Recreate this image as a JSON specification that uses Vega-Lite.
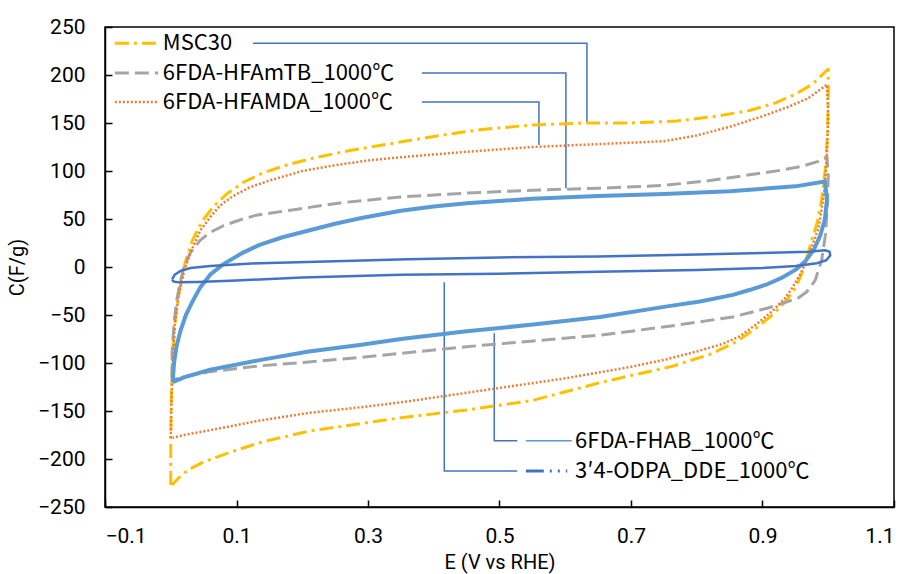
{
  "$schema": "https://vega.github.io/schema/vega-lite/v6.json",
  "width": 789,
  "height": 480,
  "autosize": {"type": "none"},
  "padding": {"left": 105, "top": 27, "right": 14, "bottom": 67},
  "background": "white",
  "config": {
    "view": {"stroke": "black", "strokeWidth": 1.5},
    "font": "Roboto",
    "axis": {"grid": false, "domainColor": "black", "domainWidth": 1.5, "tickColor": "black", "tickWidth": 1.5, "tickSize": -7, "labelPadding": 27, "labelColor": "black", "labelFontSize": 21, "labelFont": "Roboto", "titleFont": "Roboto", "titleFontSize": 20, "titleFontWeight": "normal", "titleColor": "black"}
  },
  "datasets": {
    "cv": [
      {"s":"MSC30","g":"c","i":0,"x":0.0,"y":-227},{"s":"MSC30","g":"c","i":1,"x":0.0,"y":-180},{"s":"MSC30","g":"c","i":2,"x":0.001,"y":-130},{"s":"MSC30","g":"c","i":3,"x":0.003,"y":-90},{"s":"MSC30","g":"c","i":4,"x":0.007,"y":-55},{"s":"MSC30","g":"c","i":5,"x":0.013,"y":-25},{"s":"MSC30","g":"c","i":6,"x":0.022,"y":5},{"s":"MSC30","g":"c","i":7,"x":0.033,"y":28},{"s":"MSC30","g":"c","i":8,"x":0.048,"y":48},{"s":"MSC30","g":"c","i":9,"x":0.065,"y":63},{"s":"MSC30","g":"c","i":10,"x":0.085,"y":76},{"s":"MSC30","g":"c","i":11,"x":0.11,"y":88},{"s":"MSC30","g":"c","i":12,"x":0.14,"y":98},{"s":"MSC30","g":"c","i":13,"x":0.18,"y":107},{"s":"MSC30","g":"c","i":14,"x":0.22,"y":114},{"s":"MSC30","g":"c","i":15,"x":0.27,"y":121},{"s":"MSC30","g":"c","i":16,"x":0.33,"y":128},{"s":"MSC30","g":"c","i":17,"x":0.4,"y":136},{"s":"MSC30","g":"c","i":18,"x":0.47,"y":143},{"s":"MSC30","g":"c","i":19,"x":0.55,"y":148},{"s":"MSC30","g":"c","i":20,"x":0.63,"y":150},{"s":"MSC30","g":"c","i":21,"x":0.7,"y":150},{"s":"MSC30","g":"c","i":22,"x":0.77,"y":152},{"s":"MSC30","g":"c","i":23,"x":0.83,"y":157},{"s":"MSC30","g":"c","i":24,"x":0.88,"y":163},{"s":"MSC30","g":"c","i":25,"x":0.92,"y":171},{"s":"MSC30","g":"c","i":26,"x":0.95,"y":180},{"s":"MSC30","g":"c","i":27,"x":0.975,"y":190},{"s":"MSC30","g":"c","i":28,"x":0.995,"y":203},{"s":"MSC30","g":"c","i":29,"x":1.0,"y":206},{"s":"MSC30","g":"c","i":30,"x":1.0,"y":180},{"s":"MSC30","g":"c","i":31,"x":0.999,"y":140},{"s":"MSC30","g":"c","i":32,"x":0.996,"y":105},{"s":"MSC30","g":"c","i":33,"x":0.99,"y":70},{"s":"MSC30","g":"c","i":34,"x":0.983,"y":46},{"s":"MSC30","g":"c","i":35,"x":0.972,"y":21},{"s":"MSC30","g":"c","i":36,"x":0.962,"y":-3},{"s":"MSC30","g":"c","i":37,"x":0.95,"y":-22},{"s":"MSC30","g":"c","i":38,"x":0.935,"y":-36},{"s":"MSC30","g":"c","i":39,"x":0.915,"y":-50},{"s":"MSC30","g":"c","i":40,"x":0.89,"y":-64},{"s":"MSC30","g":"c","i":41,"x":0.86,"y":-78},{"s":"MSC30","g":"c","i":42,"x":0.82,"y":-91},{"s":"MSC30","g":"c","i":43,"x":0.76,"y":-104},{"s":"MSC30","g":"c","i":44,"x":0.7,"y":-113},{"s":"MSC30","g":"c","i":45,"x":0.65,"y":-121},{"s":"MSC30","g":"c","i":46,"x":0.6,"y":-130},{"s":"MSC30","g":"c","i":47,"x":0.55,"y":-139},{"s":"MSC30","g":"c","i":48,"x":0.5,"y":-144},{"s":"MSC30","g":"c","i":49,"x":0.45,"y":-149},{"s":"MSC30","g":"c","i":50,"x":0.4,"y":-153},{"s":"MSC30","g":"c","i":51,"x":0.35,"y":-157},{"s":"MSC30","g":"c","i":52,"x":0.29,"y":-163},{"s":"MSC30","g":"c","i":53,"x":0.21,"y":-171},{"s":"MSC30","g":"c","i":54,"x":0.14,"y":-182},{"s":"MSC30","g":"c","i":55,"x":0.09,"y":-193},{"s":"MSC30","g":"c","i":56,"x":0.05,"y":-203},{"s":"MSC30","g":"c","i":57,"x":0.025,"y":-212},{"s":"MSC30","g":"c","i":58,"x":0.01,"y":-221},{"s":"MSC30","g":"c","i":59,"x":0.002,"y":-227},
      {"s":"MSC30","g":"k","i":0,"x":-0.085,"y":233},{"s":"MSC30","g":"k","i":1,"x":-0.019,"y":233},

      {"s":"HFAmTB","g":"c","i":0,"x":0.002,"y":-118},{"s":"HFAmTB","g":"c","i":1,"x":0.002,"y":-90},{"s":"HFAmTB","g":"c","i":2,"x":0.005,"y":-58},{"s":"HFAmTB","g":"c","i":3,"x":0.009,"y":-35},{"s":"HFAmTB","g":"c","i":4,"x":0.014,"y":-17},{"s":"HFAmTB","g":"c","i":5,"x":0.02,"y":0},{"s":"HFAmTB","g":"c","i":6,"x":0.03,"y":15},{"s":"HFAmTB","g":"c","i":7,"x":0.045,"y":28},{"s":"HFAmTB","g":"c","i":8,"x":0.06,"y":36},{"s":"HFAmTB","g":"c","i":9,"x":0.08,"y":43},{"s":"HFAmTB","g":"c","i":10,"x":0.105,"y":49},{"s":"HFAmTB","g":"c","i":11,"x":0.13,"y":54},{"s":"HFAmTB","g":"c","i":12,"x":0.19,"y":60},{"s":"HFAmTB","g":"c","i":13,"x":0.26,"y":67},{"s":"HFAmTB","g":"c","i":14,"x":0.35,"y":73},{"s":"HFAmTB","g":"c","i":15,"x":0.45,"y":77},{"s":"HFAmTB","g":"c","i":16,"x":0.55,"y":80},{"s":"HFAmTB","g":"c","i":17,"x":0.65,"y":82},{"s":"HFAmTB","g":"c","i":18,"x":0.75,"y":85},{"s":"HFAmTB","g":"c","i":19,"x":0.82,"y":90},{"s":"HFAmTB","g":"c","i":20,"x":0.88,"y":96},{"s":"HFAmTB","g":"c","i":21,"x":0.93,"y":101},{"s":"HFAmTB","g":"c","i":22,"x":0.96,"y":105},{"s":"HFAmTB","g":"c","i":23,"x":0.985,"y":110},{"s":"HFAmTB","g":"c","i":24,"x":0.998,"y":115},{"s":"HFAmTB","g":"c","i":25,"x":1.0,"y":95},{"s":"HFAmTB","g":"c","i":26,"x":0.999,"y":70},{"s":"HFAmTB","g":"c","i":27,"x":0.996,"y":35},{"s":"HFAmTB","g":"c","i":28,"x":0.99,"y":7},{"s":"HFAmTB","g":"c","i":29,"x":0.98,"y":-14},{"s":"HFAmTB","g":"c","i":30,"x":0.967,"y":-26},{"s":"HFAmTB","g":"c","i":31,"x":0.955,"y":-32},{"s":"HFAmTB","g":"c","i":32,"x":0.93,"y":-38},{"s":"HFAmTB","g":"c","i":33,"x":0.907,"y":-43},{"s":"HFAmTB","g":"c","i":34,"x":0.855,"y":-52},{"s":"HFAmTB","g":"c","i":35,"x":0.805,"y":-57},{"s":"HFAmTB","g":"c","i":36,"x":0.755,"y":-62},{"s":"HFAmTB","g":"c","i":37,"x":0.653,"y":-71},{"s":"HFAmTB","g":"c","i":38,"x":0.551,"y":-77},{"s":"HFAmTB","g":"c","i":39,"x":0.45,"y":-83},{"s":"HFAmTB","g":"c","i":40,"x":0.35,"y":-90},{"s":"HFAmTB","g":"c","i":41,"x":0.29,"y":-94},{"s":"HFAmTB","g":"c","i":42,"x":0.21,"y":-99},{"s":"HFAmTB","g":"c","i":43,"x":0.135,"y":-103},{"s":"HFAmTB","g":"c","i":44,"x":0.06,"y":-109},{"s":"HFAmTB","g":"c","i":45,"x":0.015,"y":-115},{"s":"HFAmTB","g":"c","i":46,"x":0.002,"y":-118},
      {"s":"HFAmTB","g":"k","i":0,"x":-0.085,"y":202},{"s":"HFAmTB","g":"k","i":1,"x":-0.019,"y":202},

      {"s":"HFAMDA","g":"c","i":0,"x":0.0,"y":-178},{"s":"HFAMDA","g":"c","i":1,"x":0.001,"y":-140},{"s":"HFAMDA","g":"c","i":2,"x":0.003,"y":-100},{"s":"HFAMDA","g":"c","i":3,"x":0.006,"y":-60},{"s":"HFAMDA","g":"c","i":4,"x":0.012,"y":-30},{"s":"HFAMDA","g":"c","i":5,"x":0.02,"y":-5},{"s":"HFAMDA","g":"c","i":6,"x":0.03,"y":15},{"s":"HFAMDA","g":"c","i":7,"x":0.045,"y":38},{"s":"HFAMDA","g":"c","i":8,"x":0.06,"y":52},{"s":"HFAMDA","g":"c","i":9,"x":0.075,"y":64},{"s":"HFAMDA","g":"c","i":10,"x":0.095,"y":74},{"s":"HFAMDA","g":"c","i":11,"x":0.12,"y":83},{"s":"HFAMDA","g":"c","i":12,"x":0.15,"y":90},{"s":"HFAMDA","g":"c","i":13,"x":0.2,"y":100},{"s":"HFAMDA","g":"c","i":14,"x":0.25,"y":106},{"s":"HFAMDA","g":"c","i":15,"x":0.3,"y":111},{"s":"HFAMDA","g":"c","i":16,"x":0.36,"y":115},{"s":"HFAMDA","g":"c","i":17,"x":0.45,"y":120},{"s":"HFAMDA","g":"c","i":18,"x":0.55,"y":125},{"s":"HFAMDA","g":"c","i":19,"x":0.65,"y":128},{"s":"HFAMDA","g":"c","i":20,"x":0.75,"y":131},{"s":"HFAMDA","g":"c","i":21,"x":0.8,"y":137},{"s":"HFAMDA","g":"c","i":22,"x":0.85,"y":146},{"s":"HFAMDA","g":"c","i":23,"x":0.9,"y":157},{"s":"HFAMDA","g":"c","i":24,"x":0.94,"y":167},{"s":"HFAMDA","g":"c","i":25,"x":0.97,"y":176},{"s":"HFAMDA","g":"c","i":26,"x":0.998,"y":190},{"s":"HFAMDA","g":"c","i":27,"x":1.0,"y":160},{"s":"HFAMDA","g":"c","i":28,"x":0.998,"y":120},{"s":"HFAMDA","g":"c","i":29,"x":0.995,"y":85},{"s":"HFAMDA","g":"c","i":30,"x":0.99,"y":60},{"s":"HFAMDA","g":"c","i":31,"x":0.985,"y":40},{"s":"HFAMDA","g":"c","i":32,"x":0.977,"y":25},{"s":"HFAMDA","g":"c","i":33,"x":0.968,"y":8},{"s":"HFAMDA","g":"c","i":34,"x":0.957,"y":-8},{"s":"HFAMDA","g":"c","i":35,"x":0.945,"y":-22},{"s":"HFAMDA","g":"c","i":36,"x":0.935,"y":-32},{"s":"HFAMDA","g":"c","i":37,"x":0.915,"y":-46},{"s":"HFAMDA","g":"c","i":38,"x":0.89,"y":-60},{"s":"HFAMDA","g":"c","i":39,"x":0.866,"y":-72},{"s":"HFAMDA","g":"c","i":40,"x":0.84,"y":-80},{"s":"HFAMDA","g":"c","i":41,"x":0.805,"y":-87},{"s":"HFAMDA","g":"c","i":42,"x":0.755,"y":-96},{"s":"HFAMDA","g":"c","i":43,"x":0.7,"y":-104},{"s":"HFAMDA","g":"c","i":44,"x":0.65,"y":-110},{"s":"HFAMDA","g":"c","i":45,"x":0.6,"y":-116},{"s":"HFAMDA","g":"c","i":46,"x":0.55,"y":-121},{"s":"HFAMDA","g":"c","i":47,"x":0.5,"y":-126},{"s":"HFAMDA","g":"c","i":48,"x":0.45,"y":-131},{"s":"HFAMDA","g":"c","i":49,"x":0.4,"y":-136},{"s":"HFAMDA","g":"c","i":50,"x":0.35,"y":-141},{"s":"HFAMDA","g":"c","i":51,"x":0.29,"y":-146},{"s":"HFAMDA","g":"c","i":52,"x":0.21,"y":-152},{"s":"HFAMDA","g":"c","i":53,"x":0.135,"y":-160},{"s":"HFAMDA","g":"c","i":54,"x":0.06,"y":-170},{"s":"HFAMDA","g":"c","i":55,"x":0.02,"y":-175},{"s":"HFAMDA","g":"c","i":56,"x":0.003,"y":-178},
      {"s":"HFAMDA","g":"k","i":0,"x":-0.085,"y":172},{"s":"HFAMDA","g":"k","i":1,"x":-0.019,"y":172},

      {"s":"FHAB","g":"c","i":0,"x":0.003,"y":-120},{"s":"FHAB","g":"c","i":1,"x":0.005,"y":-100},{"s":"FHAB","g":"c","i":2,"x":0.009,"y":-82},{"s":"FHAB","g":"c","i":3,"x":0.015,"y":-66},{"s":"FHAB","g":"c","i":4,"x":0.023,"y":-50},{"s":"FHAB","g":"c","i":5,"x":0.033,"y":-36},{"s":"FHAB","g":"c","i":6,"x":0.045,"y":-21},{"s":"FHAB","g":"c","i":7,"x":0.06,"y":-8},{"s":"FHAB","g":"c","i":8,"x":0.08,"y":3},{"s":"FHAB","g":"c","i":9,"x":0.11,"y":15},{"s":"FHAB","g":"c","i":10,"x":0.135,"y":23},{"s":"FHAB","g":"c","i":11,"x":0.17,"y":31},{"s":"FHAB","g":"c","i":12,"x":0.21,"y":38},{"s":"FHAB","g":"c","i":13,"x":0.25,"y":45},{"s":"FHAB","g":"c","i":14,"x":0.29,"y":51},{"s":"FHAB","g":"c","i":15,"x":0.35,"y":58.5},{"s":"FHAB","g":"c","i":16,"x":0.4,"y":63},{"s":"FHAB","g":"c","i":17,"x":0.45,"y":66.5},{"s":"FHAB","g":"c","i":18,"x":0.55,"y":71},{"s":"FHAB","g":"c","i":19,"x":0.65,"y":74},{"s":"FHAB","g":"c","i":20,"x":0.75,"y":76},{"s":"FHAB","g":"c","i":21,"x":0.85,"y":79},{"s":"FHAB","g":"c","i":22,"x":0.95,"y":84},{"s":"FHAB","g":"c","i":23,"x":0.995,"y":89},{"s":"FHAB","g":"c","i":24,"x":0.998,"y":70},{"s":"FHAB","g":"c","i":25,"x":0.995,"y":50},{"s":"FHAB","g":"c","i":26,"x":0.988,"y":33},{"s":"FHAB","g":"c","i":27,"x":0.978,"y":18},{"s":"FHAB","g":"c","i":28,"x":0.965,"y":6},{"s":"FHAB","g":"c","i":29,"x":0.95,"y":-3},{"s":"FHAB","g":"c","i":30,"x":0.93,"y":-11},{"s":"FHAB","g":"c","i":31,"x":0.907,"y":-18},{"s":"FHAB","g":"c","i":32,"x":0.88,"y":-24},{"s":"FHAB","g":"c","i":33,"x":0.855,"y":-29},{"s":"FHAB","g":"c","i":34,"x":0.805,"y":-36},{"s":"FHAB","g":"c","i":35,"x":0.755,"y":-41},{"s":"FHAB","g":"c","i":36,"x":0.653,"y":-52},{"s":"FHAB","g":"c","i":37,"x":0.551,"y":-60},{"s":"FHAB","g":"c","i":38,"x":0.45,"y":-67},{"s":"FHAB","g":"c","i":39,"x":0.35,"y":-75},{"s":"FHAB","g":"c","i":40,"x":0.29,"y":-81},{"s":"FHAB","g":"c","i":41,"x":0.21,"y":-88},{"s":"FHAB","g":"c","i":42,"x":0.135,"y":-97},{"s":"FHAB","g":"c","i":43,"x":0.06,"y":-107},{"s":"FHAB","g":"c","i":44,"x":0.02,"y":-115},{"s":"FHAB","g":"c","i":45,"x":0.003,"y":-120},

      {"s":"ODPA","g":"c","i":0,"x":0.002,"y":-13},{"s":"ODPA","g":"c","i":1,"x":0.006,"y":-8},{"s":"ODPA","g":"c","i":2,"x":0.015,"y":-4},{"s":"ODPA","g":"c","i":3,"x":0.03,"y":-1},{"s":"ODPA","g":"c","i":4,"x":0.06,"y":1},{"s":"ODPA","g":"c","i":5,"x":0.135,"y":4},{"s":"ODPA","g":"c","i":6,"x":0.25,"y":6},{"s":"ODPA","g":"c","i":7,"x":0.36,"y":8},{"s":"ODPA","g":"c","i":8,"x":0.5,"y":10},{"s":"ODPA","g":"c","i":9,"x":0.65,"y":11},{"s":"ODPA","g":"c","i":10,"x":0.8,"y":13},{"s":"ODPA","g":"c","i":11,"x":0.9,"y":14.5},{"s":"ODPA","g":"c","i":12,"x":0.97,"y":16},{"s":"ODPA","g":"c","i":13,"x":0.995,"y":17.5},{"s":"ODPA","g":"c","i":14,"x":1.002,"y":16},{"s":"ODPA","g":"c","i":15,"x":1.003,"y":12},{"s":"ODPA","g":"c","i":16,"x":0.997,"y":7},{"s":"ODPA","g":"c","i":17,"x":0.983,"y":4},{"s":"ODPA","g":"c","i":18,"x":0.95,"y":1},{"s":"ODPA","g":"c","i":19,"x":0.9,"y":-1},{"s":"ODPA","g":"c","i":20,"x":0.8,"y":-3},{"s":"ODPA","g":"c","i":21,"x":0.65,"y":-5},{"s":"ODPA","g":"c","i":22,"x":0.5,"y":-7},{"s":"ODPA","g":"c","i":23,"x":0.35,"y":-8},{"s":"ODPA","g":"c","i":24,"x":0.2,"y":-11},{"s":"ODPA","g":"c","i":25,"x":0.1,"y":-14},{"s":"ODPA","g":"c","i":26,"x":0.04,"y":-15.5},{"s":"ODPA","g":"c","i":27,"x":0.012,"y":-16},{"s":"ODPA","g":"c","i":28,"x":0.004,"y":-15},{"s":"ODPA","g":"c","i":29,"x":0.002,"y":-13}
    ],
    "samples": [
      {"s":"FHAB","i":0,"x":0.54,"y":-181},{"s":"FHAB","i":1,"x":0.61,"y":-181},
      {"s":"ODPA","i":0,"x":0.54,"y":-212.5},{"s":"ODPA","i":1,"x":0.603,"y":-212.5}
    ],
    "leaders": [
      {"id":"L1","i":0,"x":0.125,"y":233},{"id":"L1","i":1,"x":0.633,"y":233},{"id":"L1","i":2,"x":0.633,"y":150},
      {"id":"L2","i":0,"x":0.382,"y":202},{"id":"L2","i":1,"x":0.601,"y":202},{"id":"L2","i":2,"x":0.601,"y":82},
      {"id":"L3","i":0,"x":0.382,"y":172},{"id":"L3","i":1,"x":0.56,"y":172},{"id":"L3","i":2,"x":0.56,"y":127},
      {"id":"L4","i":0,"x":0.492,"y":-69},{"id":"L4","i":1,"x":0.492,"y":-181},{"id":"L4","i":2,"x":0.527,"y":-181},
      {"id":"L5","i":0,"x":0.416,"y":-16},{"id":"L5","i":1,"x":0.416,"y":-212.5},{"id":"L5","i":2,"x":0.527,"y":-212.5}
    ],
    "labels": [
      {"t":"MSC30","x":-0.012,"y":233},
      {"t":"6FDA-HFAmTB_1000℃","x":-0.012,"y":202},
      {"t":"6FDA-HFAMDA_1000℃","x":-0.012,"y":172},
      {"t":"6FDA-FHAB_1000℃","x":0.615,"y":-181},
      {"t":"3′4-ODPA_DDE_1000℃","x":0.615,"y":-212.5}
    ]
  },
  "encoding": {
    "x": {"field": "x", "type": "quantitative", "scale": {"domain": [-0.1, 1.1], "nice": false, "zero": false}, "axis": {"values": [-0.1, 0.1, 0.3, 0.5, 0.7, 0.9, 1.1], "format": ".1f", "title": "E (V vs RHE)", "titlePadding": 6, "labelPadding": 25}},
    "y": {"field": "y", "type": "quantitative", "scale": {"domain": [-250, 250], "nice": false, "zero": false}, "axis": {"values": [-250, -200, -150, -100, -50, 0, 50, 100, 150, 200, 250], "title": "C(F/g)", "titlePadding": 10}}
  },
  "layer": [
    {"data": {"name": "leaders"}, "mark": {"type": "line", "color": "#4472C4", "strokeWidth": 1.5}, "encoding": {"detail": {"field": "id"}, "order": {"field": "i", "type": "quantitative"}}},
    {"data": {"name": "cv"}, "transform": [{"filter": "datum.s == 'MSC30'"}], "mark": {"type": "line", "color": "#FFC000", "strokeWidth": 3, "strokeDash": [14, 5, 3, 5], "strokeJoin": "round"}, "encoding": {"detail": {"field": "g"}, "order": {"field": "i", "type": "quantitative"}}},
    {"data": {"name": "cv"}, "transform": [{"filter": "datum.s == 'HFAmTB'"}], "mark": {"type": "line", "color": "#A5A5A5", "strokeWidth": 3, "strokeDash": [14, 6], "strokeJoin": "round"}, "encoding": {"detail": {"field": "g"}, "order": {"field": "i", "type": "quantitative"}}},
    {"data": {"name": "cv"}, "transform": [{"filter": "datum.s == 'HFAMDA'"}], "mark": {"type": "line", "color": "#ED7D31", "strokeWidth": 2.5, "strokeDash": [2, 2]}, "encoding": {"detail": {"field": "g"}, "order": {"field": "i", "type": "quantitative"}}},
    {"data": {"name": "cv"}, "transform": [{"filter": "datum.s == 'FHAB'"}], "mark": {"type": "line", "color": "#5B9BD5", "strokeWidth": 4, "strokeJoin": "round"}, "encoding": {"detail": {"field": "g"}, "order": {"field": "i", "type": "quantitative"}}},
    {"data": {"name": "cv"}, "transform": [{"filter": "datum.s == 'ODPA'"}], "mark": {"type": "line", "color": "#4472C4", "strokeWidth": 2.5, "strokeJoin": "round"}, "encoding": {"detail": {"field": "g"}, "order": {"field": "i", "type": "quantitative"}}},
    {"data": {"name": "samples"}, "transform": [{"filter": "datum.s == 'FHAB'"}], "mark": {"type": "line", "color": "#5B9BD5", "strokeWidth": 1.5}, "encoding": {"order": {"field": "i", "type": "quantitative"}}},
    {"data": {"name": "samples"}, "transform": [{"filter": "datum.s == 'ODPA'"}], "mark": {"type": "line", "color": "#4472C4", "strokeWidth": 3, "strokeDash": [18, 6, 2, 6, 2, 6]}, "encoding": {"order": {"field": "i", "type": "quantitative"}}},
    {"data": {"name": "labels"}, "mark": {"type": "text", "align": "left", "baseline": "middle", "font": "Noto Sans CJK SC", "fontSize": 22, "color": "black"}, "encoding": {"text": {"field": "t"}}}
  ]
}
